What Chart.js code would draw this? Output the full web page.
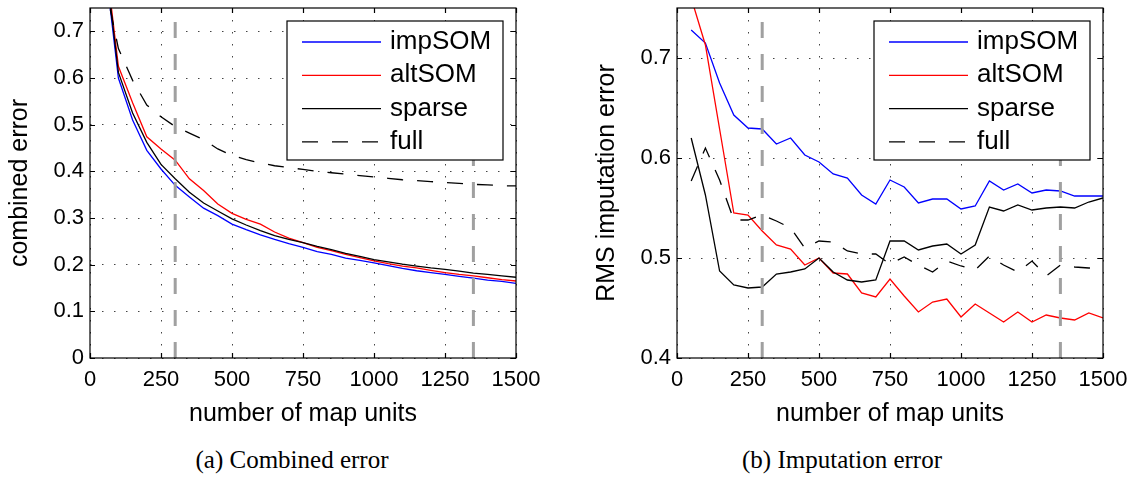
<!DOCTYPE html>
<html>
<head>
<meta charset="utf-8">
<script src="https://cdn.jsdelivr.net/npm/chart.js@4/dist/chart.umd.min.js"></script>
<style>
  body { margin: 0; background: #fff; width: 1146px; height: 479px; position: relative; overflow: hidden; }
  .wrap { position: absolute; top: 0; height: 430px; }
  #wrapA { left: 0; width: 560px; }
  #wrapB { left: 587px; width: 559px; }
  .caption { position: absolute; top: 446px; width: 320px; height: 25px; line-height: 25px;
             text-align: center; font: 25px "Liberation Serif", "Times New Roman", serif; color: #000; }
</style>
</head>
<body>
<div class="wrap" id="wrapA"><canvas id="chartA"></canvas></div>
<div class="wrap" id="wrapB"><canvas id="chartB"></canvas></div>
<div class="caption" style="left:132px">(a) Combined error</div>
<div class="caption" style="left:682px">(b) Imputation error</div>

<script>
// ================= DATA =================
const mapUnits = [50, 100, 150, 200, 250, 300, 350, 400, 450, 500, 550, 600, 650, 700, 750,
                  800, 850, 900, 950, 1000, 1050, 1100, 1150, 1200, 1250, 1300, 1350, 1400, 1450, 1500];
const markerUnits = [300, 1350];
const xTicks = [0, 250, 500, 750, 1000, 1250, 1500];
const seriesNames = ["impSOM", "altSOM", "sparse", "full"];

// (a) combined error
const combImpSOM = [0.86, 0.600, 0.510, 0.445, 0.405, 0.370, 0.345, 0.321, 0.305, 0.287, 0.275, 0.264, 0.254, 0.245, 0.237,
                    0.228, 0.222, 0.214, 0.209, 0.204, 0.198, 0.192, 0.187, 0.183, 0.179, 0.175, 0.171, 0.167, 0.164, 0.160];
const combAltSOM = [0.88, 0.625, 0.547, 0.474, 0.448, 0.424, 0.384, 0.359, 0.330, 0.310, 0.297, 0.287, 0.270, 0.257, 0.247,
                    0.237, 0.230, 0.222, 0.215, 0.208, 0.202, 0.197, 0.193, 0.188, 0.183, 0.179, 0.176, 0.172, 0.168, 0.165];
const combSparse = [0.87, 0.612, 0.525, 0.462, 0.415, 0.384, 0.355, 0.332, 0.315, 0.298, 0.285, 0.273, 0.262, 0.254, 0.247,
                    0.239, 0.232, 0.224, 0.218, 0.211, 0.206, 0.201, 0.197, 0.193, 0.190, 0.186, 0.182, 0.179, 0.176, 0.173];
const combFull   = [0.81, 0.663, 0.595, 0.542, 0.517, 0.496, 0.482, 0.468, 0.448, 0.434, 0.425, 0.418, 0.412, 0.408, 0.404,
                    0.400, 0.397, 0.394, 0.391, 0.388, 0.385, 0.382, 0.380, 0.378, 0.376, 0.374, 0.372, 0.371, 0.369, 0.369];
const combTicksY = [0, 0.1, 0.2, 0.3, 0.4, 0.5, 0.6, 0.7];

// (b) RMS imputation error
const rmsImpSOM = [0.728, 0.715, 0.675, 0.643, 0.630, 0.629, 0.614, 0.620, 0.603, 0.596, 0.584, 0.580, 0.563, 0.554, 0.578,
                   0.571, 0.555, 0.559, 0.559, 0.549, 0.552, 0.577, 0.568, 0.574, 0.565, 0.568, 0.567, 0.562, 0.562, 0.562];
const rmsAltSOM = [0.760, 0.713, 0.629, 0.545, 0.543, 0.527, 0.513, 0.509, 0.493, 0.500, 0.485, 0.484, 0.465, 0.461, 0.479,
                   0.462, 0.446, 0.456, 0.459, 0.441, 0.454, 0.445, 0.436, 0.446, 0.436, 0.443, 0.440, 0.438, 0.445, 0.440];
const rmsSparse = [0.620, 0.563, 0.487, 0.473, 0.470, 0.471, 0.484, 0.486, 0.489, 0.500, 0.486, 0.478, 0.476, 0.478, 0.517,
                   0.517, 0.508, 0.512, 0.514, 0.504, 0.513, 0.551, 0.547, 0.553, 0.548, 0.550, 0.551, 0.550, 0.556, 0.560];
const rmsFull   = [0.577, 0.610, 0.578, 0.538, 0.538, 0.543, 0.537, 0.530, 0.510, 0.517, 0.516, 0.507, 0.504, 0.504, 0.494,
                   0.501, 0.493, 0.486, 0.497, 0.492, 0.488, 0.502, 0.493, 0.486, 0.497, 0.482, 0.493, 0.491, 0.490, 0.490];
const rmsTicksY = [0.4, 0.5, 0.6, 0.7];

// ================= STYLE =================
const lineStyles = [
  { color: "#0000ff", dash: [] },
  { color: "#ff0000", dash: [] },
  { color: "#000000", dash: [] },
  { color: "#000000", dash: [16, 14] }
];
Chart.defaults.font.family = '"Liberation Sans", Arial, Helvetica, sans-serif';
Chart.defaults.color = "#000";

// frame round the plot + MATLAB style inward ticks
const frameTicks = {
  id: "frameTicks",
  afterDatasetsDraw(chart) {
    const { ctx, chartArea: a, scales: { x, y } } = chart;
    ctx.save();
    ctx.strokeStyle = "#000";
    ctx.lineWidth = 1.2;
    ctx.setLineDash([]);
    ctx.beginPath();
    x.ticks.forEach(t => {
      const px = Math.round(x.getPixelForValue(t.value)) + 0.5;
      ctx.moveTo(px, a.bottom); ctx.lineTo(px, a.bottom - 5);
      ctx.moveTo(px, a.top); ctx.lineTo(px, a.top + 5);
    });
    y.ticks.forEach(t => {
      const py = Math.round(y.getPixelForValue(t.value)) + 0.5;
      ctx.moveTo(a.left, py); ctx.lineTo(a.left + 5, py);
      ctx.moveTo(a.right, py); ctx.lineTo(a.right - 5, py);
    });
    ctx.stroke();
    ctx.strokeRect(a.left, a.top, a.right - a.left, a.bottom - a.top);
    ctx.restore();
  }
};

// boxed legend in the upper right corner
const boxLegend = {
  id: "boxLegend",
  afterDraw(chart) {
    const { ctx, chartArea: a } = chart;
    const left = a.left + 197, top = a.top + 13, right = a.right - 13, bottom = a.top + 152;
    ctx.save();
    ctx.fillStyle = "#fff";
    ctx.fillRect(left, top, right - left, bottom - top);
    ctx.strokeStyle = "#000";
    ctx.lineWidth = 1.2;
    ctx.strokeRect(left, top, right - left, bottom - top);
    ctx.font = '26px "Liberation Sans", Arial, sans-serif';
    ctx.textBaseline = "middle";
    ctx.textAlign = "left";
    chart.data.datasets.filter(d => d.label).forEach((d, i) => {
      const yy = top + 21 + i * 33.3;
      ctx.strokeStyle = d.borderColor;
      ctx.lineWidth = d.borderWidth;
      ctx.setLineDash(d.borderDash);
      ctx.beginPath();
      ctx.moveTo(a.left + 212, yy);
      ctx.lineTo(a.left + 291, yy);
      ctx.stroke();
      ctx.setLineDash([]);
      ctx.fillStyle = "#000";
      ctx.fillText(d.label, a.left + 300, yy);
    });
    ctx.restore();
  }
};

function makeChart(canvasId, series, yTicks, yMin, yMax, yTitle, padRight) {
  const datasets = series.map((vals, i) => ({
    label: seriesNames[i],
    data: mapUnits.map((u, k) => ({ x: u, y: vals[k] })),
    borderColor: lineStyles[i].color,
    borderDash: lineStyles[i].dash,
    borderWidth: 1.3,
    pointRadius: 0,
    tension: 0,
    order: 4 - i
  }));
  markerUnits.forEach(m => {
    datasets.push({
      label: "",
      data: [{ x: m, y: yMin }, { x: m, y: yMax }],
      borderColor: "#a0a0a0",
      borderDash: [16, 16],
      borderWidth: 3,
      pointRadius: 0,
      order: 0
    });
  });

  return new Chart(document.getElementById(canvasId), {
    type: "line",
    data: { datasets },
    options: {
      responsive: true,
      maintainAspectRatio: false,
      animation: false,
      layout: { padding: { top: 8, left: 0, right: padRight, bottom: 0 } },
      plugins: { legend: { display: false }, tooltip: { enabled: false } },
      scales: {
        x: {
          type: "linear",
          min: 0,
          max: 1500,
          afterBuildTicks: s => { s.ticks = xTicks.map(v => ({ value: v })); },
          afterFit: s => { s.height = 72; s.paddingLeft = 0; s.paddingRight = 0; },
          ticks: { font: { size: 22 }, padding: 9, maxRotation: 0, autoSkip: false, callback: v => String(v) },
          grid: { color: "#444", lineWidth: 1, drawTicks: false },
          border: { display: false, dash: [1.5, 10.5] },
          title: { display: true, text: "number of map units", font: { size: 25 }, padding: { top: 0, bottom: 1 } }
        },
        y: {
          type: "linear",
          min: yMin,
          max: yMax,
          afterBuildTicks: s => { s.ticks = yTicks.map(v => ({ value: v })); },
          afterFit: s => { s.width = 90; s.paddingTop = 0; s.paddingBottom = 0; },
          ticks: { font: { size: 22 }, padding: 6, autoSkip: false, callback: v => String(v) },
          grid: { color: "#444", lineWidth: 1, drawTicks: false },
          border: { display: false, dash: [1.5, 10.5] },
          title: { display: true, text: yTitle, font: { size: 25 }, padding: { top: 5, bottom: 0 } }
        }
      }
    },
    plugins: [frameTicks, boxLegend]
  });
}

makeChart("chartA", [combImpSOM, combAltSOM, combSparse, combFull], combTicksY, 0, 0.75, "combined error", 44);
makeChart("chartB", [rmsImpSOM, rmsAltSOM, rmsSparse, rmsFull], rmsTicksY, 0.4, 0.75, "RMS imputation error", 43);
</script>
</body>
</html>
